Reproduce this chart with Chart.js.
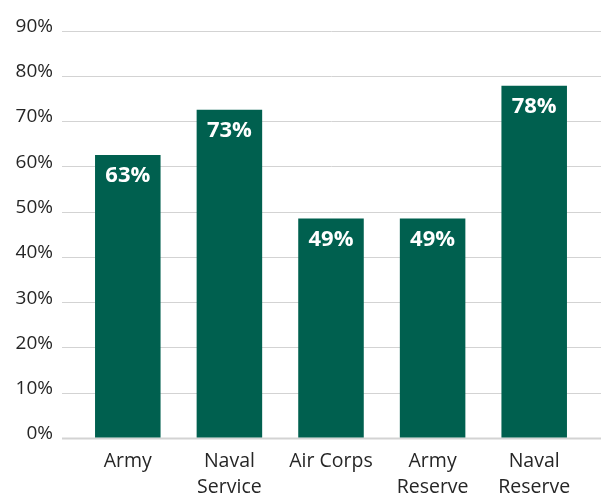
<!DOCTYPE html>
<html>
<head>
<meta charset="utf-8">
<script src="https://cdn.jsdelivr.net/npm/chart.js@4/dist/chart.umd.min.js"></script>
<style>
  html, body { margin: 0; padding: 0; background: #ffffff; }
  #wrap { width: 601px; height: 495px; position: relative; }
</style>
</head>
<body>
<div id="wrap"><canvas id="c" width="601" height="495"></canvas></div>
<script>
const categories = [["Army"], ["Naval", "Service"], ["Air Corps"], ["Army", "Reserve"], ["Naval", "Reserve"]];
const values = [62.5, 72.5, 48.5, 48.5, 77.8];
const valueLabels = ["63%", "73%", "49%", "49%", "78%"];
const yTicks = [0, 10, 20, 30, 40, 50, 60, 70, 80, 90];

const FONT = "'Open Sans', 'Noto Sans', sans-serif";

const gridPlugin = {
  id: 'fullGrid',
  beforeDatasetsDraw(chart) {
    const ctx = chart.ctx;
    const y = chart.scales.y;
    ctx.save();
    yTicks.forEach(v => {
      const py = Math.round(y.getPixelForValue(v)) + 0.5;
      ctx.beginPath();
      ctx.strokeStyle = '#d3d3d3';
      ctx.lineWidth = v === 0 ? 2 : 1;
      ctx.moveTo(62, py);
      ctx.lineTo(601, py);
      ctx.stroke();
    });
    ctx.restore();
  }
};

const labelPlugin = {
  id: 'barLabels',
  afterDatasetsDraw(chart) {
    const ctx = chart.ctx;
    const meta = chart.getDatasetMeta(0);
    ctx.save();
    ctx.fillStyle = '#ffffff';
    ctx.font = "bold 22px " + FONT;
    ctx.textAlign = 'center';
    ctx.textBaseline = 'middle';
    meta.data.forEach((bar, i) => {
      ctx.fillText(valueLabels[i], bar.x, bar.y + 21);
    });
    ctx.restore();
  }
};

new Chart(document.getElementById('c'), {
  type: 'bar',
  data: {
    labels: categories,
    datasets: [{
      data: values,
      backgroundColor: '#00604f',
      borderWidth: 0,
      barPercentage: 0.645,
      categoryPercentage: 1.0
    }]
  },
  options: {
    responsive: false,
    animation: false,
    devicePixelRatio: 1,
    layout: { padding: { left: 0, right: 16, top: 30.5, bottom: 0 } },
    plugins: { legend: { display: false }, tooltip: { enabled: false } },
    scales: {
      x: {
        grid: { display: false, drawTicks: false },
        border: { display: false },
        ticks: {
          color: '#262626',
          font: { family: FONT, size: 19.5, lineHeight: 1.35 },
          padding: 10,
          maxRotation: 0,
          autoSkip: false
        },
        afterFit(s) { s.height = 57; }
      },
      y: {
        min: 0,
        max: 90,
        afterBuildTicks(s) { s.ticks = yTicks.map(v => ({ value: v })); },
        grid: { display: true, drawOnChartArea: false, drawTicks: true, tickLength: 24, color: 'rgba(0,0,0,0)' },
        border: { display: false },
        ticks: {
          color: '#262626',
          font: { family: FONT, size: 19 },
          padding: 0,
          labelOffset: -4,
          callback: v => v + '%'
        },
        afterFit(s) { s.width = 77; }
      }
    }
  },
  plugins: [gridPlugin, labelPlugin]
});
</script>
</body>
</html>
